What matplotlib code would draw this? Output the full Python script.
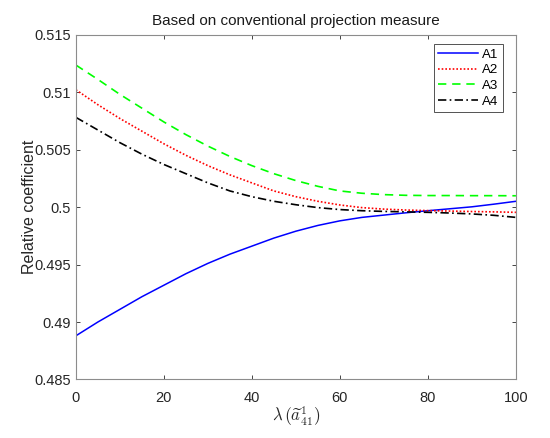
import matplotlib
matplotlib.use("Agg")
import matplotlib.pyplot as plt
import numpy as np

plt.rcParams['font.family'] = ['Liberation Sans', 'DejaVu Sans']
plt.rcParams['mathtext.fontset'] = 'cm'

lam = [0, 5, 10, 15, 20, 25, 30, 35, 40, 45, 50, 55, 60, 65, 70, 75, 80, 85, 90, 95, 100]
A1 = [0.4888, 0.4900, 0.4911, 0.4922, 0.4932, 0.4942, 0.4951, 0.4959, 0.4966, 0.4973, 0.4979,
      0.4984, 0.49880, 0.49910, 0.49930, 0.49950, 0.49968, 0.49985, 0.50002, 0.50025, 0.5005]
A2 = [0.5102, 0.5089, 0.5077, 0.5066, 0.5055, 0.5045, 0.5036, 0.5028, 0.5021, 0.5014, 0.5009,
      0.5005, 0.50018, 0.49995, 0.49982, 0.49974, 0.49969, 0.49965, 0.49961, 0.49958, 0.49954]
A3 = [0.51235, 0.5111, 0.5098, 0.5086, 0.5074, 0.5063, 0.5053, 0.5044, 0.5036, 0.5029, 0.5023,
      0.5018, 0.5014, 0.50120, 0.50108, 0.50102, 0.50100, 0.50100, 0.50099, 0.50099, 0.50098]
A4 = [0.5078, 0.5067, 0.5056, 0.5046, 0.5037, 0.5029, 0.5021, 0.5014, 0.5009, 0.5005, 0.5002,
      0.49995, 0.49978, 0.49968, 0.49962, 0.49958, 0.49954, 0.49948, 0.49940, 0.49928, 0.4991]

xticks = [0, 20, 40, 60, 80, 100]
yticks = [0.485, 0.49, 0.495, 0.5, 0.505, 0.51, 0.515]
ytick_labels = ['0.485', '0.49', '0.495', '0.5', '0.505', '0.51', '0.515']

fig = plt.figure(figsize=(5.5, 4.38), dpi=100)
ax = fig.add_axes([0.138, 0.1336, 0.800, 0.7874])

ax.plot(lam, A1, color=(0, 0, 1), lw=1.1, ls='-', label='A1')
ax.plot(lam, A2, color=(1, 0, 0), lw=1.2, ls=(0, (1, 1.2)), label='A2')
ax.plot(lam, A3, color=(0, 1, 0), lw=1.2, ls=(0, (5, 3.5)), label='A3')
ax.plot(lam, A4, color=(0, 0, 0), lw=1.2, ls=(0, (5, 2, 1, 2)), label='A4')

ax.set_xlim(0, 100)
ax.set_ylim(0.485, 0.515)
ax.set_xticks(xticks)
ax.set_yticks(yticks)
ax.set_yticklabels(ytick_labels)
ax.tick_params(direction='in', top=True, right=True, labelsize=10.5, colors='#262626',
               length=3, width=0.6)
ax.tick_params(axis='x', pad=8)
for s in ax.spines.values():
    s.set_color('#8c8c8c')
    s.set_linewidth(0.8)

ax.set_title('Based on conventional projection measure', fontsize=11, color='#1a1a1a', pad=7)
ax.set_ylabel('Relative coefficient', fontsize=11.5, color='#262626', labelpad=-2)
ax.set_xlabel(r'$\lambda\,\left(\widetilde{a}_{41}^{1}\right)$', fontsize=12, color='#262626', labelpad=0)

leg = ax.legend(loc='upper right', bbox_to_anchor=(0.970, 0.9725), fontsize=9.5, frameon=True,
                fancybox=False, edgecolor='#262626', handlelength=3.0, borderaxespad=0.0,
                labelspacing=0.25, handletextpad=0.3, borderpad=0.35)
leg.get_frame().set_linewidth(0.7)

fig.savefig('out.png', dpi=100)
